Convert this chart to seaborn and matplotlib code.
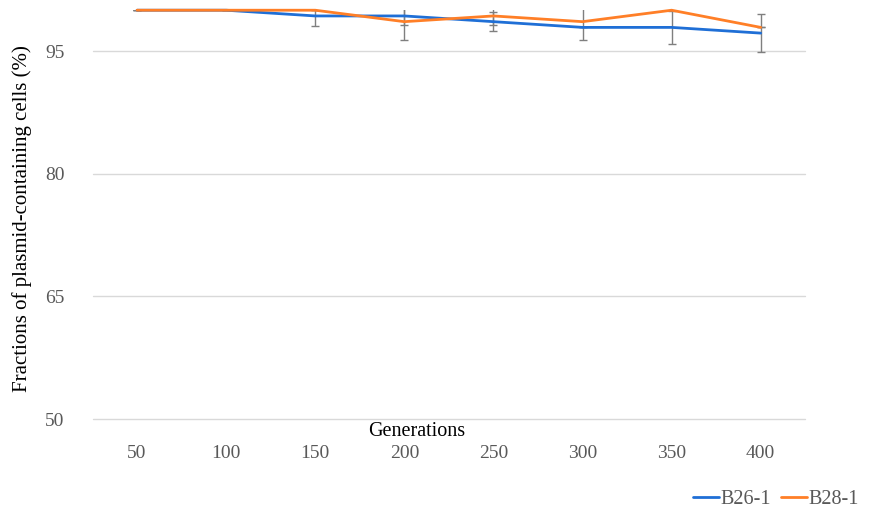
import pandas as pd
import matplotlib
matplotlib.use('Agg')
import matplotlib.pyplot as plt
import seaborn as sns

generations = ['50', '100', '150', '200', '250', '300', '350', '400']
b26 = [100, 100, 99.3, 99.3, 98.6, 97.9, 97.9, 97.2]
b28 = [100, 100, 100, 98.6, 99.3, 98.6, 100, 97.9]
b26_err = [0, 0, 1.2, 1.1, 1.2, 0, 2.0, 2.3]
b28_err = [0, 0, 0, 2.3, 1.15, 2.3, 0, 0]

df = pd.DataFrame({
    'Generations': generations * 2,
    'Fraction': b26 + b28,
    'Strain': ['B26-1'] * len(generations) + ['B28-1'] * len(generations),
})

sns.set_style('white')
plt.rcParams['font.family'] = ['Liberation Serif', 'DejaVu Serif']

fig = plt.figure(figsize=(8.81, 5.11), dpi=100)
ax = fig.add_axes([0.105, 0.180, 0.809, 0.800])

colors = {'B26-1': '#1f6fd6', 'B28-1': '#ff7f27'}

sns.lineplot(data=df, x='Generations', y='Fraction', hue='Strain',
             palette=colors, linewidth=2.0, ax=ax, legend=False, zorder=3)
# keep the lines at 100 fully visible at the top edge
for line in ax.lines:
    line.set_clip_on(False)

# error bars (clipped to the plot area like in the original)
ax.errorbar(generations, b26, yerr=b26_err, fmt='none', ecolor='#7f7f7f',
            elinewidth=1, capsize=3, capthick=1, zorder=1)
ax.errorbar(generations, b28, yerr=b28_err, fmt='none', ecolor='#7f7f7f',
            elinewidth=1, capsize=3, capthick=1, zorder=1)

ax.set_ylim(50, 100)
ax.set_xlim(-0.5, 7.5)
ax.set_yticks([50, 65, 80, 95])
ax.yaxis.grid(True, color='#d9d9d9', linewidth=1)
for g in ax.get_ygridlines():
    g.set_clip_on(False)
ax.set_axisbelow(True)
for s in ax.spines.values():
    s.set_visible(False)

ax.tick_params(axis='both', length=0, labelsize=14, labelcolor='#595959')
ax.tick_params(axis='y', pad=20)
ax.tick_params(axis='x', pad=19)

ax.set_xlabel('Generations', fontsize=14.5, color='black')
ax.xaxis.set_label_coords(0.455, -0.008)
ax.set_ylabel('Fractions of plasmid-containing cells (%)', fontsize=15, color='black')
ax.yaxis.set_label_coords(-0.085, 0.49)

handles = [plt.Line2D([], [], color=colors[k], linewidth=2.0) for k in ['B26-1', 'B28-1']]
fig.legend(handles, ['B26-1', 'B28-1'], loc='lower right', bbox_to_anchor=(0.995, -0.032),
           ncol=2, frameon=False, fontsize=14.5, handlelength=1.3, handletextpad=0.05,
           columnspacing=0.5, labelcolor='#595959')

fig.savefig('out.png', dpi=100)
